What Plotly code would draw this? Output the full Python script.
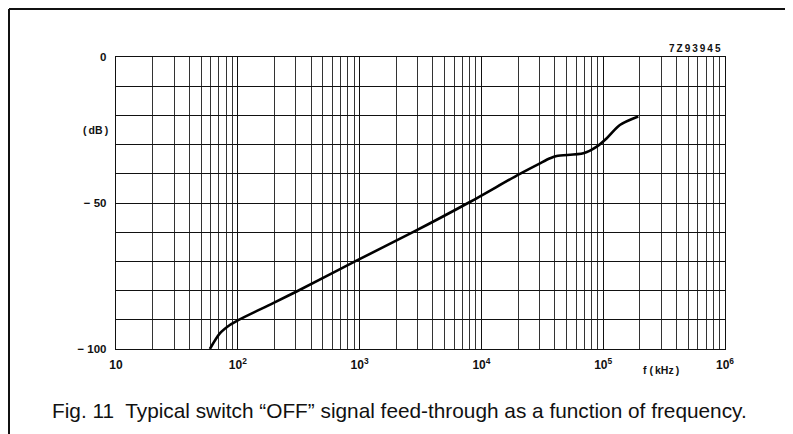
import plotly.graph_objects as go

# Data
freq_khz = [59, 71.5, 86, 100, 195, 304, 917, 2740, 7760, 20700, 30300, 36600,
            41500, 68700, 88500, 107000, 137000, 194000]
gain_db = [-100, -94.6, -91.8, -90.2, -84.3, -80.3, -70, -60, -50, -40, -36.4, -34.7,
           -33.9, -33.0, -30.7, -27.8, -23.3, -20.4]

x_tick_vals = [10, 100, 1000, 10000, 100000, 1000000]
x_tick_text = ["10", "10<sup>2</sup>", "10<sup>3</sup>", "10<sup>4</sup>",
               "10<sup>5</sup>", "10<sup>6</sup>"]
y_tick_vals = [0, -10, -20, -30, -40, -50, -60, -70, -80, -90, -100]
y_tick_text = ["0", "", "", "", "", "\u2212 50", "", "", "", "", "\u2212 100"]

minor_x = [m * d for d in [10, 100, 1000, 10000, 100000] for m in range(2, 10)]

FONT = "Liberation Sans, Arial, Helvetica, sans-serif"
INK = "#111111"
TS = "\u2009"

fig = go.Figure()
fig.add_trace(go.Scatter(
    x=freq_khz, y=gain_db, mode="lines",
    line=dict(color="black", width=2.6, shape="spline", smoothing=0.8),
    showlegend=False, hoverinfo="skip"))

fig.update_layout(
    width=785, height=426,
    margin=dict(l=108, r=68, t=49, b=85),
    paper_bgcolor="white", plot_bgcolor="white",
    font=dict(family=FONT, color=INK),
    xaxis=dict(
        type="log", range=[1, 6],
        tickmode="array", tickvals=x_tick_vals, ticktext=x_tick_text,
        tickfont=dict(size=12, weight="bold", color=INK),
        showgrid=True, gridcolor=INK, gridwidth=1.4,
        minor=dict(tickvals=minor_x, showgrid=True, gridcolor="#333333", gridwidth=1, ticks=""),
        showline=True, linecolor=INK, linewidth=1.4, mirror=True,
        ticks="", zeroline=False, ticklabelstandoff=4,
    ),
    yaxis=dict(
        range=[-100, 0],
        tickmode="array", tickvals=y_tick_vals, ticktext=y_tick_text,
        tickfont=dict(size=11.5, weight="bold", color=INK),
        showgrid=True, gridcolor=INK, gridwidth=1.1,
        showline=True, linecolor=INK, linewidth=1.4, mirror=True,
        ticks="", zeroline=False, ticklabelstandoff=6,
    ),
)

# frame lines of the figure (top and left)
fig.add_shape(type="line", xref="paper", yref="paper",
              x0=-0.1757, x1=1.12, y0=1.1644, y1=1.1644,
              line=dict(color=INK, width=2))
fig.add_shape(type="line", xref="paper", yref="paper",
              x0=-0.1757, x1=-0.1757, y0=1.1644, y1=-0.30,
              line=dict(color=INK, width=2))

fig.add_annotation(text="<b>(" + TS + "dB" + TS + ")</b>", xref="paper", yref="y", x=-0.01, y=-25,
                   xanchor="right", yanchor="middle", showarrow=False,
                   font=dict(size=10.5, color=INK))
fig.add_annotation(text="<b>f (" + TS + "kHz" + TS + ")</b>", xref="x", yref="paper", x=5.475, y=-0.072,
                   xanchor="center", yanchor="middle", showarrow=False,
                   font=dict(size=10.5, color=INK))
fig.add_annotation(text="<b>" + TS.join("7Z93945") + "</b>", xref="paper", yref="paper", x=0.997, y=1.0,
                   xanchor="right", yanchor="bottom", yshift=1, showarrow=False,
                   font=dict(size=10, color=INK))
fig.add_annotation(text="Fig. 11  Typical switch \u201cOFF\u201d signal feed-through as a function of frequency.",
                   xref="paper", yref="paper", x=-0.1084, y=-0.209,
                   xanchor="left", yanchor="middle", showarrow=False,
                   font=dict(size=20.8, color=INK))

fig.write_html("out.html")
